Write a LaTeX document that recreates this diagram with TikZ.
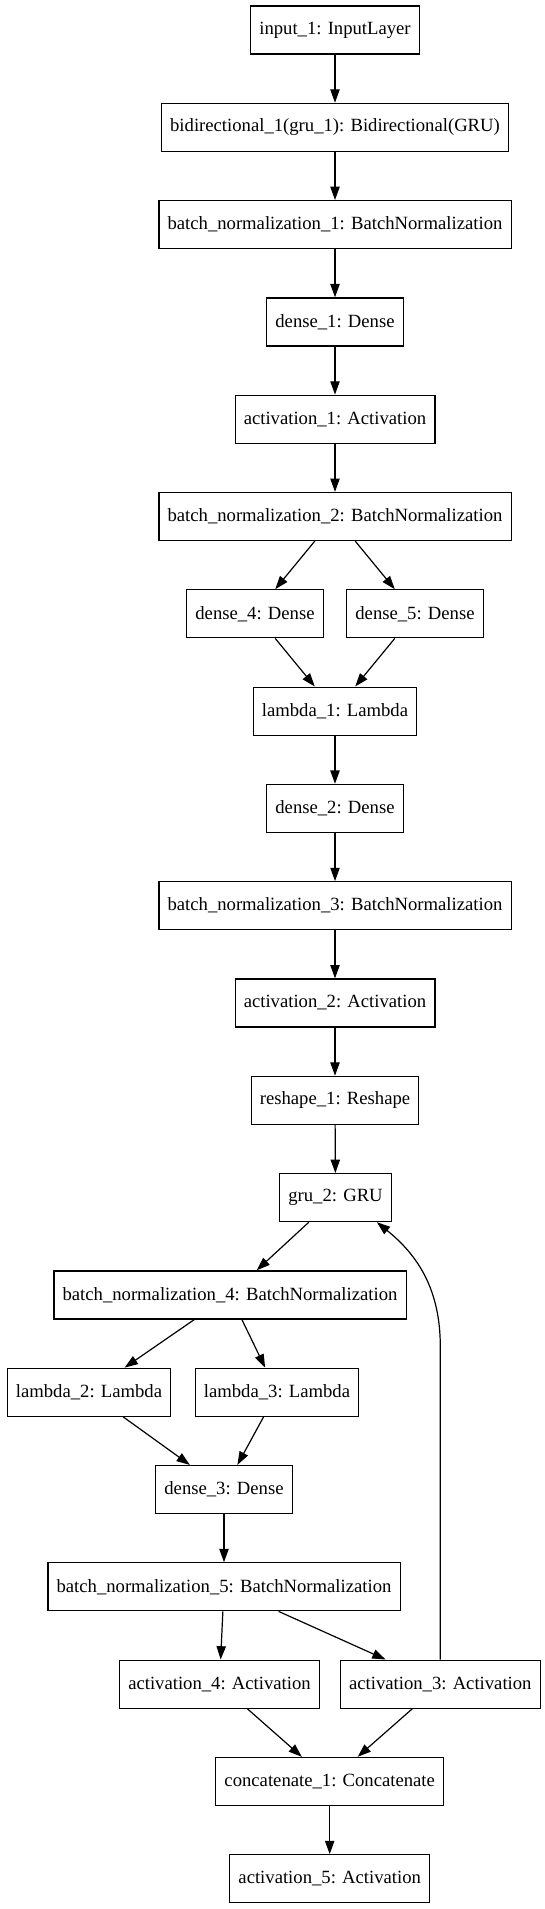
\documentclass[tikz,border=0pt]{standalone}
\usepackage{fontspec}
\setmainfont{Liberation Serif}
\usetikzlibrary{arrows.meta}

\tikzset{
  layer/.style={draw, rectangle, line width=0.9pt, minimum height=36pt, inner xsep=6.5pt, font=\fontsize{14pt}{16pt}\selectfont},
  edge/.style={-{Triangle[length=10pt,width=7pt]}, line width=0.9pt}
}

\begin{document}
\begin{tikzpicture}[x=0.75pt, y=-0.75pt]
	\def \yo {30}
	\def \dy {97.3}
	\useasboundingbox (0,0) rectangle (545,1909);
	
	%upper chain
	\node[layer] (in1) at (335,\yo) {input\_1: InputLayer};
	\node[layer] (bidir1) at (335,\yo+\dy) {bidirectional\_1(gru\_1): Bidirectional(GRU)};
	\node[layer] (bn1) at (335,\yo+2*\dy) {batch\_normalization\_1: BatchNormalization};
	\node[layer] (dense1) at (335,\yo+3*\dy) {dense\_1: Dense};
	\node[layer] (act1) at (335,\yo+4*\dy) {activation\_1: Activation};
	\node[layer] (bn2) at (335,\yo+5*\dy) {batch\_normalization\_2: BatchNormalization};
	
	%split into two dense
	\node[layer] (dense4) at (255,\yo+6*\dy) {dense\_4: Dense};
	\node[layer] (dense5) at (415,\yo+6*\dy) {dense\_5: Dense};
	
	%middle chain
	\node[layer] (lambda1) at (335,\yo+7*\dy) {lambda\_1: Lambda};
	\node[layer] (dense2) at (335,\yo+8*\dy) {dense\_2: Dense};
	\node[layer] (bn3) at (335,\yo+9*\dy) {batch\_normalization\_3: BatchNormalization};
	\node[layer] (act2) at (335,\yo+10*\dy) {activation\_2: Activation};
	\node[layer] (reshape1) at (335,\yo+11*\dy) {reshape\_1: Reshape};
	\node[layer] (gru2) at (335.5,\yo+12*\dy) {gru\_2: GRU};
	
	%lower part
	\node[layer] (bn4) at (230,\yo+13*\dy) {batch\_normalization\_4: BatchNormalization};
	\node[layer] (lambda2) at (89,\yo+14*\dy) {lambda\_2: Lambda};
	\node[layer] (lambda3) at (277,\yo+14*\dy) {lambda\_3: Lambda};
	\node[layer] (dense3) at (224,\yo+15*\dy) {dense\_3: Dense};
	\node[layer] (bn5) at (224,\yo+16*\dy) {batch\_normalization\_5: BatchNormalization};
	\node[layer] (act4) at (219.5,\yo+17*\dy) {activation\_4: Activation};
	\node[layer] (act3) at (440.3,\yo+17*\dy) {activation\_3: Activation};
	\node[layer] (concat1) at (329.7,\yo+18*\dy) {concatenate\_1: Concatenate};
	\node[layer] (act5) at (329.7,\yo+19*\dy) {activation\_5: Activation};
	
	%edges
	\draw[edge] (in1) -- (bidir1);
	\draw[edge] (bidir1) -- (bn1);
	\draw[edge] (bn1) -- (dense1);
	\draw[edge] (dense1) -- (act1);
	\draw[edge] (act1) -- (bn2);
	\draw[edge] (bn2) -- (dense4);
	\draw[edge] (bn2) -- (dense5);
	\draw[edge] (dense4) -- (lambda1);
	\draw[edge] (dense5) -- (lambda1);
	\draw[edge] (lambda1) -- (dense2);
	\draw[edge] (dense2) -- (bn3);
	\draw[edge] (bn3) -- (act2);
	\draw[edge] (act2) -- (reshape1);
	\draw[edge] (reshape1) -- (gru2);
	\draw[edge] (gru2) -- (bn4);
	\draw[edge] (bn4) -- (lambda2);
	\draw[edge] (bn4) -- (lambda3);
	\draw[edge] (lambda2) -- (dense3);
	\draw[edge] (lambda3) -- (dense3);
	\draw[edge] (dense3) -- (bn5);
	\draw[edge] (bn5) -- (act4);
	\draw[edge] (bn5) -- (act3);
	\draw[edge] (act4) -- (concat1);
	\draw[edge] (act3) -- (concat1);
	\draw[edge] (concat1) -- (act5);
	
	%feedback into gru_2
	\draw[edge] (act3.north) -- ++(0,-313) .. controls +(0,-57) and +(41,33) .. ([xshift=31pt]gru2.south);
\end{tikzpicture}
\end{document}
